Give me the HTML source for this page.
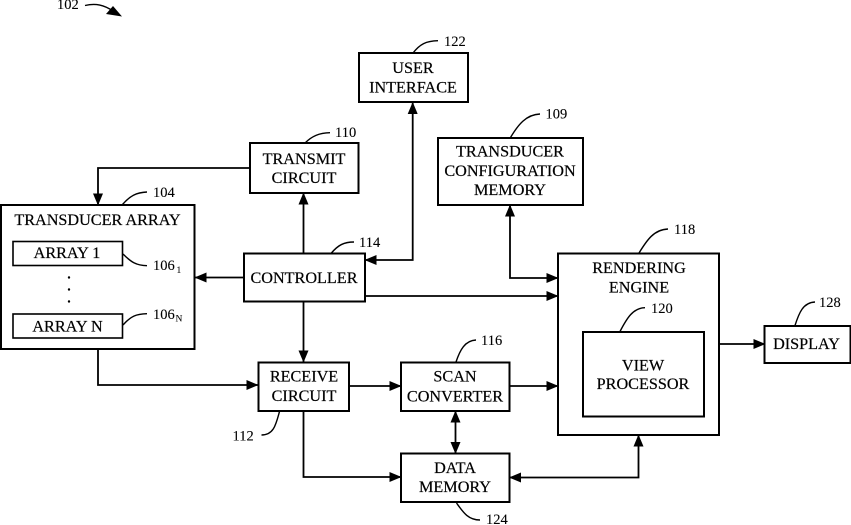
<!DOCTYPE html>
<html>
<head>
<meta charset="utf-8">
<style>
html,body{margin:0;padding:0;background:#fff;width:851px;height:525px;overflow:hidden}
svg{display:block;filter:blur(.3px)}
text{font-family:"Liberation Serif",serif;font-size:16.2px;fill:#000;stroke:#000;stroke-width:.2;text-anchor:middle}
.n{font-size:14.5px;text-anchor:start;stroke-width:.1}
.s{font-size:9.5px;text-anchor:start;stroke-width:.1}
rect{fill:#fff;stroke:#000;stroke-width:2}
.th{stroke-width:1.6}
.l{fill:none;stroke:#000;stroke-width:1.8}
.t{fill:none;stroke:#000;stroke-width:1.4}
</style>
</head>
<body>
<svg width="851" height="525" viewBox="0 0 851 525" xmlns="http://www.w3.org/2000/svg">
<defs>
<marker id="a" viewBox="0 0 12 10" refX="11.5" refY="5" markerWidth="12" markerHeight="10" markerUnits="userSpaceOnUse" orient="auto-start-reverse">
<path d="M0 0L12 5L0 10Z" fill="#000"/>
</marker>
</defs>

<!-- boxes -->
<rect x="359" y="53" width="109" height="49"/>
<rect x="250" y="143" width="108.500" height="50"/>
<rect x="438" y="138" width="145" height="67"/>
<rect x="1" y="205" width="193.500" height="144"/>
<rect class="th" x="13" y="241.500" width="109.500" height="24"/>
<rect class="th" x="13" y="314" width="109.500" height="24"/>
<rect x="244" y="253.500" width="121" height="48"/>
<rect x="558" y="253.500" width="161" height="181.500"/>
<rect x="583" y="332" width="121" height="84.500"/>
<rect x="764.500" y="326" width="86" height="37"/>
<rect x="258.500" y="362.500" width="90.500" height="48.500"/>
<rect x="401" y="362.500" width="108.500" height="48.500"/>
<rect x="401" y="453.500" width="108.500" height="48.500"/>

<!-- connectors -->
<path class="l" d="M250 168H98V205" marker-end="url(#a)"/>
<path class="l" d="M303.500 253V193" marker-end="url(#a)"/>
<path class="l" d="M365 260H412.700V102.500" marker-start="url(#a)" marker-end="url(#a)"/>
<path class="l" d="M244 277.500H195" marker-end="url(#a)"/>
<path class="l" d="M365 296H558" marker-end="url(#a)"/>
<path class="l" d="M303.500 302V362" marker-end="url(#a)"/>
<path class="l" d="M98 349V385H258" marker-end="url(#a)"/>
<path class="l" d="M349 386H401" marker-end="url(#a)"/>
<path class="l" d="M509 386H558" marker-end="url(#a)"/>
<path class="l" d="M510 205V278H558" marker-start="url(#a)" marker-end="url(#a)"/>
<path class="l" d="M719 344H765" marker-end="url(#a)"/>
<path class="l" d="M455.500 411V453.500" marker-start="url(#a)" marker-end="url(#a)"/>
<path class="l" d="M303.500 411V477H401" marker-end="url(#a)"/>
<path class="l" d="M509.500 477.500H638.500V435" marker-start="url(#a)" marker-end="url(#a)"/>

<!-- box labels -->
<text x="413" y="73">USER</text>
<text x="413" y="92.300">INTERFACE</text>
<text x="304" y="164">TRANSMIT</text>
<text x="304" y="183">CIRCUIT</text>
<text x="510" y="156.500">TRANSDUCER</text>
<text x="510" y="176">CONFIGURATION</text>
<text x="510" y="195">MEMORY</text>
<text x="97.500" y="225">TRANSDUCER ARRAY</text>
<text x="67" y="258">ARRAY 1</text>
<text x="67.500" y="331.500">ARRAY N</text>
<text x="304" y="283">CONTROLLER</text>
<text x="639" y="273">RENDERING</text>
<text x="639" y="292.500">ENGINE</text>
<text x="643" y="370.500">VIEW</text>
<text x="643" y="389">PROCESSOR</text>
<text x="806.500" y="349">DISPLAY</text>
<text x="304" y="381.500">RECEIVE</text>
<text x="304" y="401">CIRCUIT</text>
<text x="455" y="381.500">SCAN</text>
<text x="455" y="401.500">CONVERTER</text>
<text x="455" y="473">DATA</text>
<text x="455" y="492">MEMORY</text>
<circle cx="69" cy="277.500" r="1.200" fill="#000"/>
<circle cx="69" cy="289.500" r="1.200" fill="#000"/>
<circle cx="69" cy="301.500" r="1.200" fill="#000"/>

<!-- reference numbers + leaders -->
<text class="n" x="57" y="9">102</text>
<path class="t" d="M85 5.500C96 3 104 5 113 11"/>
<path d="M122 16.500L106 14L113 6Z" fill="#000"/>
<path class="t" d="M413 53C420 44 426 41 438 40.700"/><text class="n" x="444" y="46">122</text>
<path class="t" d="M305 143C312 136 319 133 330 132.700"/><text class="n" x="335" y="137">110</text>
<path class="t" d="M510.500 137.500C518 125 526 114.500 540 114"/><text class="n" x="545.500" y="118.500">109</text>
<path class="t" d="M122.500 204.500C130 196 136 192.500 147 192"/><text class="n" x="153" y="197">104</text>
<path class="t" d="M123 254C131 262 136 265.500 147 265.700"/><text class="n" x="153" y="270">106</text><text class="s" x="176.500" y="273">1</text>
<path class="t" d="M123 325C131 316 136 314 147 313.700"/><text class="n" x="153" y="319">106</text><text class="s" x="175.500" y="321.500">N</text>
<path class="t" d="M331 253.500C338 245 344 242 354 242"/><text class="n" x="359" y="247">114</text>
<path class="t" d="M639 253C647 240 654 229.500 668 229"/><text class="n" x="674" y="234">118</text>
<path class="t" d="M620 331.500C627 318 633 308 645 307.700"/><text class="n" x="651" y="313">120</text>
<path class="t" d="M795 325.500C799 313 803 302.500 815 302"/><text class="n" x="819" y="307">128</text>
<path class="t" d="M456 362C460 350 465 340.500 476 340"/><text class="n" x="481" y="345">116</text>
<path class="t" d="M279.500 411.500C276 424 274 435 261.500 435"/><text class="n" x="232.500" y="440.500">112</text>
<path class="t" d="M456.500 503C463 512 468 520 480 520"/><text class="n" x="486" y="524">124</text>
</svg>
</body>
</html>
